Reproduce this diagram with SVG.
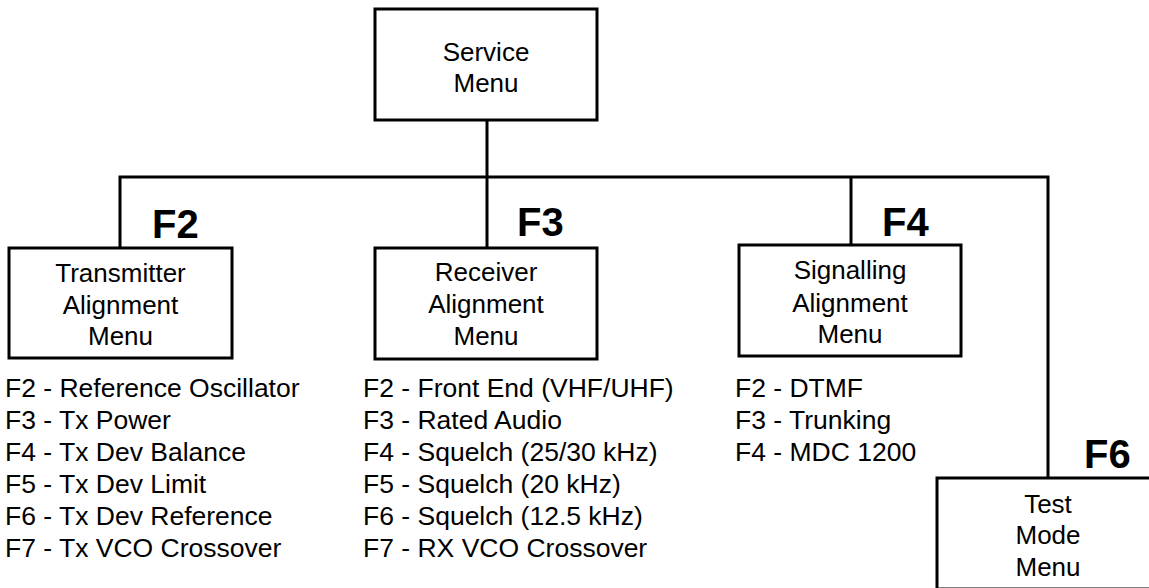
<svg xmlns="http://www.w3.org/2000/svg" width="1149" height="588" viewBox="0 0 1149 588">
<style>
.box{fill:#fff;stroke:#000;stroke-width:3}
.ln{fill:none;stroke:#000;stroke-width:3}
.t{font-family:"Liberation Sans",Arial,sans-serif;font-size:26px;fill:#000}
.l{font-size:26.5px}
.c{text-anchor:middle}
.k{font-family:"Liberation Sans",Arial,sans-serif;font-size:40px;font-weight:bold;fill:#000}
</style>
<rect width="1149" height="588" fill="#fff"/>
<g id="connectors">
<path class="ln" d="M487 120V248M120 248V177H1048V478M851 177V245"/>
</g>
<g id="service">
<rect class="box" x="375" y="9" width="222" height="111"/>
<text class="t c" x="486" y="61">Service</text>
<text class="t c" x="486" y="92">Menu</text>
</g>
<g id="transmitter">
<text class="k" x="152" y="238">F2</text>
<rect class="box" x="9" y="248" width="223" height="110"/>
<text class="t c" x="120.5" y="282">Transmitter</text>
<text class="t c" x="120.5" y="314">Alignment</text>
<text class="t c" x="120.5" y="345">Menu</text>
<text class="t l" x="5" y="397">F2 - Reference Oscillator</text>
<text class="t l" x="5" y="429">F3 - Tx Power</text>
<text class="t l" x="5" y="461">F4 - Tx Dev Balance</text>
<text class="t l" x="5" y="493">F5 - Tx Dev Limit</text>
<text class="t l" x="5" y="525">F6 - Tx Dev Reference</text>
<text class="t l" x="5" y="557">F7 - Tx VCO Crossover</text>
</g>
<g id="receiver">
<text class="k" x="517" y="236">F3</text>
<rect class="box" x="375" y="248" width="222" height="111"/>
<text class="t c" x="486" y="281">Receiver</text>
<text class="t c" x="486" y="313">Alignment</text>
<text class="t c" x="486" y="345">Menu</text>
<text class="t l" x="363" y="397">F2 - Front End (VHF/UHF)</text>
<text class="t l" x="363" y="429">F3 - Rated Audio</text>
<text class="t l" x="363" y="461">F4 - Squelch (25/30 kHz)</text>
<text class="t l" x="363" y="493">F5 - Squelch (20 kHz)</text>
<text class="t l" x="363" y="525">F6 - Squelch (12.5 kHz)</text>
<text class="t l" x="363" y="557">F7 - RX VCO Crossover</text>
</g>
<g id="signalling">
<text class="k" x="882" y="236">F4</text>
<rect class="box" x="739" y="245" width="222" height="111"/>
<text class="t c" x="850" y="279">Signalling</text>
<text class="t c" x="850" y="312">Alignment</text>
<text class="t c" x="850" y="343">Menu</text>
<text class="t l" x="735" y="397">F2 - DTMF</text>
<text class="t l" x="735" y="429">F3 - Trunking</text>
<text class="t l" x="735" y="461">F4 - MDC 1200</text>
</g>
<g id="testmode">
<text class="k" x="1084" y="468">F6</text>
<rect class="box" x="937" y="478" width="222" height="111"/>
<text class="t c" x="1048" y="513">Test</text>
<text class="t c" x="1048" y="544">Mode</text>
<text class="t c" x="1048" y="576">Menu</text>
</g>
</svg>
